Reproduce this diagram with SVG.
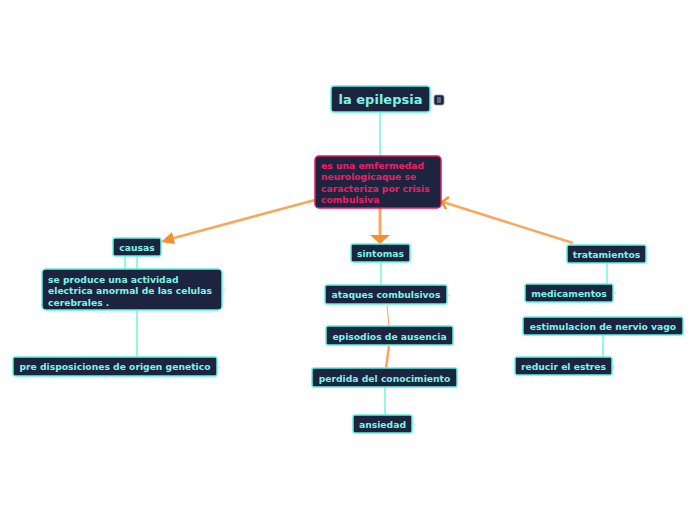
<svg xmlns="http://www.w3.org/2000/svg" width="696" height="520" viewBox="0 0 696 520">
<style>
.n{fill:#1c2440;stroke:#5ef2dd;stroke-width:1.5}
.t{font-family:"DejaVu Sans",Verdana,sans-serif;font-weight:bold;font-size:9.2px;fill:#7df4e4;text-anchor:middle}
.c{stroke:#6ff4e2;stroke-width:1.5;fill:none}
.o{stroke:#f8a85c;fill:none}
.tick{stroke:#6ff4e2;stroke-width:1}
</style>
<rect width="696" height="520" fill="#fff"/>
<g id="connectors">
<line class="c" x1="380" y1="112" x2="380" y2="156"/>
<line class="c" x1="125" y1="256" x2="125" y2="270"/>
<line class="c" x1="137" y1="256" x2="137" y2="270"/>
<line class="c" x1="137" y1="310" x2="137" y2="357"/>
<line class="c" x1="381" y1="262" x2="381" y2="285"/>
<line class="c" x1="385" y1="387" x2="385" y2="415"/>
<line class="c" x1="607" y1="263" x2="607" y2="284"/>
<line class="c" x1="603" y1="335" x2="603" y2="357"/>
<line class="o" stroke-width="1" x1="387" y1="305" x2="389" y2="326"/>
<line class="o" stroke-width="2.5" x1="389" y1="346" x2="386" y2="368"/>
<line class="o" stroke-width="2.5" x1="315" y1="200" x2="170" y2="239"/>
<polygon points="161,242 172,232 175,244" fill="#f39130"/>
<line class="o" stroke-width="3" x1="380" y1="208" x2="380" y2="236"/>
<polygon points="370,235 390,235 380,244" fill="#f39130"/>
<line class="o" stroke-width="2.5" x1="573" y1="243" x2="443" y2="202"/>
<polyline points="449,197 442,202 446,209" fill="none" stroke="#f39130" stroke-width="2.5"/>
</g>
<g id="root">
<rect class="n" x="331" y="86" width="99" height="26" rx="3"/>
<text class="t" x="380.5" y="104" style="font-size:13px">la epilepsia</text>
<rect x="434" y="95" width="10" height="10" rx="2" fill="#1c2440" stroke="#8a94a8" stroke-width="0.8"/>
<line x1="437" y1="98" x2="441" y2="98" stroke="#cfd6e0" stroke-width="0.8"/>
<line x1="437" y1="100" x2="441" y2="100" stroke="#cfd6e0" stroke-width="0.8"/>
<line x1="437" y1="102" x2="441" y2="102" stroke="#cfd6e0" stroke-width="0.8"/>
</g>
<g id="definicion">
<rect x="315" y="156" width="126" height="52" rx="4" fill="#1c2440" stroke="#e8185f" stroke-width="1.5"/>
<text font-family="DejaVu Sans,Verdana,sans-serif" font-weight="bold" font-size="9.2px" fill="#ec1f66">
<tspan x="321" y="169">es una emfermedad</tspan>
<tspan x="321" y="180">neurologicaque se</tspan>
<tspan x="321" y="192">caracteriza por crisis</tspan>
<tspan x="321" y="203">combulsiva</tspan>
</text>
</g>
<g id="causas">
<rect class="n" x="113" y="238" width="48" height="18" rx="2"/>
<text class="t" x="137" y="250.5">causas</text>
</g>
<g id="se-produce">
<rect class="n" x="42" y="269" width="180" height="41" rx="4"/>
<text class="t" style="text-anchor:start">
<tspan x="48" y="283">se produce una actividad</tspan>
<tspan x="48" y="294">electrica anormal de las celulas</tspan>
<tspan x="48" y="306">cerebrales .</tspan>
</text>
<line class="tick" x1="223" y1="290" x2="225" y2="290"/>
</g>
<g id="pre-disposiciones">
<rect class="n" x="13" y="357" width="204" height="19" rx="2"/>
<text class="t" x="115" y="370">pre disposiciones de origen genetico</text>
<line class="tick" x1="218" y1="367" x2="220" y2="367"/>
</g>
<g id="sintomas">
<rect class="n" x="351" y="244" width="59" height="18" rx="2"/>
<text class="t" x="380.5" y="256.5">sintomas</text>
</g>
<g id="ataques">
<rect class="n" x="325" y="285" width="122" height="19" rx="2"/>
<text class="t" x="386" y="298">ataques combulsivos</text>
<line class="tick" x1="448" y1="295" x2="450" y2="295"/>
</g>
<g id="episodios">
<rect class="n" x="326" y="326" width="127" height="19" rx="2"/>
<text class="t" x="389.5" y="339.5">episodios de ausencia</text>
</g>
<g id="perdida">
<rect class="n" x="312" y="368" width="145" height="19" rx="2"/>
<text class="t" x="384.5" y="381.5">perdida del conocimiento</text>
</g>
<g id="ansiedad">
<rect class="n" x="353" y="415" width="59" height="18" rx="2"/>
<text class="t" x="382.5" y="427.5">ansiedad</text>
<line class="tick" x1="413" y1="424" x2="415" y2="424"/>
</g>
<g id="tratamientos">
<rect class="n" x="567" y="245" width="79" height="18" rx="2"/>
<text class="t" x="606.5" y="257.5">tratamientos</text>
</g>
<g id="medicamentos">
<rect class="n" x="525" y="284" width="88" height="18" rx="2"/>
<text class="t" x="569" y="296.5">medicamentos</text>
<line class="tick" x1="614" y1="293" x2="616" y2="293"/>
</g>
<g id="estimulacion">
<rect class="n" x="523" y="317" width="160" height="18" rx="2"/>
<text class="t" x="603" y="329.5">estimulacion de nervio vago</text>
</g>
<g id="reducir">
<rect class="n" x="515" y="357" width="97" height="18" rx="2"/>
<text class="t" x="563.5" y="369.5">reducir el estres</text>
<line class="tick" x1="613" y1="366" x2="615" y2="366"/>
</g>
</svg>
